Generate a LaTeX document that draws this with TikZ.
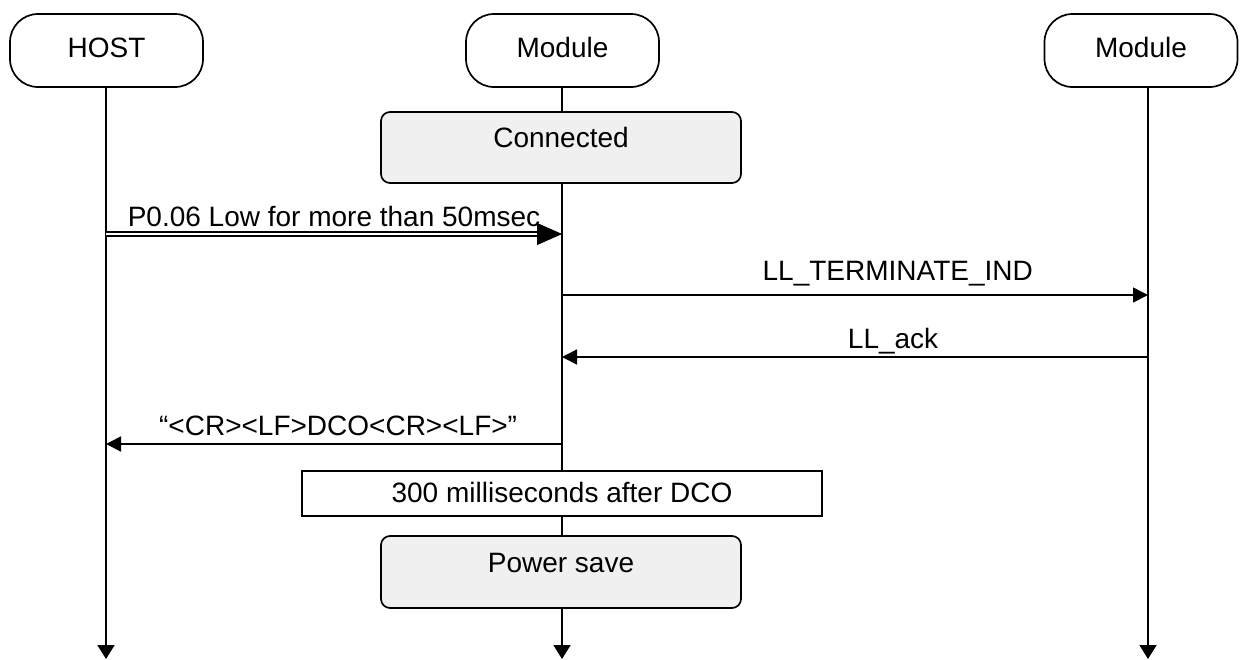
\documentclass[tikz,border=0pt]{standalone}
\usepackage{fontspec}
\setmainfont{Liberation Sans}
\usetikzlibrary{arrows.meta,calc}
\definecolor{stfill}{HTML}{F0F0F0}
\pgfdeclarelayer{bg}
\pgfsetlayers{bg,main}
\begin{document}
\begin{tikzpicture}[x=1pt,y=-1pt,
  every node/.style={font=\fontsize{28}{34}\selectfont, inner sep=0pt},
  actor/.style={draw, line width=1.7pt, rounded corners=28pt, minimum width=193pt, minimum height=73pt, text height=20pt, text depth=7pt, fill=white},
  state/.style={draw, line width=1.7pt, rounded corners=9pt, fill=stfill, minimum width=360pt, minimum height=71pt, text height=20pt, text depth=20pt},
  plainbox/.style={draw, line width=1.7pt, fill=white, minimum width=520pt, minimum height=45pt, text height=20pt, text depth=3pt},
  life/.style={line width=1.7pt, -{Triangle[length=14pt,width=17pt]}},
  msg/.style={line width=1.7pt, -{Triangle[length=15pt,width=15pt]}},
  dbl/.style={line width=1.9pt, double, double distance=2.2pt},
  lbl/.style={anchor=base, inner sep=0pt}
]
\useasboundingbox (0,0) rectangle (1245,659);

% actors
\node[actor] (host) at (106.5,50.5) {HOST};
\node[actor] (mod) at (562.5,50.5) {Module};
\node[actor] (peer) at (1141,50.5) {Module};

\coordinate (hx) at (106,0);
\coordinate (mx) at (562,0);
\coordinate (px) at (1148,0);
\coordinate (bot) at (0,659);

% states
\node[state] (conn) at (561,147.5) {Connected};
\node[plainbox] (wait) at (562,493.5) {300 milliseconds after DCO};
\node[state, minimum height=72pt] (psave) at (561,572) {Power save};

% lifelines
\begin{pgfonlayer}{bg}
\draw[life] (host.south -| hx) -- (hx |- bot);
\draw[life] (mod.south -| mx) -- (mx |- bot);
\draw[life] (peer.south -| px) -- (px |- bot);
\end{pgfonlayer}

% messages
\coordinate (m1) at (0,234);
\coordinate (m2) at (0,295);
\coordinate (m3) at (0,357);
\coordinate (m4) at (0,444);

\draw[dbl, shorten >=24pt] (hx |- m1) -- (mx |- m1)
  node[lbl, pos=0.5, yshift=8pt] {P0.06 Low for more than 50msec};
\draw[line width=0.8pt, -{Triangle[length=25pt,width=22pt]}] ($(mx |- m1)+(-25,0)$) -- (mx |- m1);

\draw[msg] (mx |- m2) -- (px |- m2)
  node[lbl, pos=0.573, yshift=15pt] {LL\_TERMINATE\_IND};
\draw[msg] (px |- m3) -- (mx |- m3)
  node[lbl, pos=0.435, yshift=9pt] {LL\_ack};
\draw[msg] (mx |- m4) -- (hx |- m4)
  node[lbl, pos=0.491, yshift=9pt] {“<CR><LF>DCO<CR><LF>”};
\end{tikzpicture}
\end{document}
